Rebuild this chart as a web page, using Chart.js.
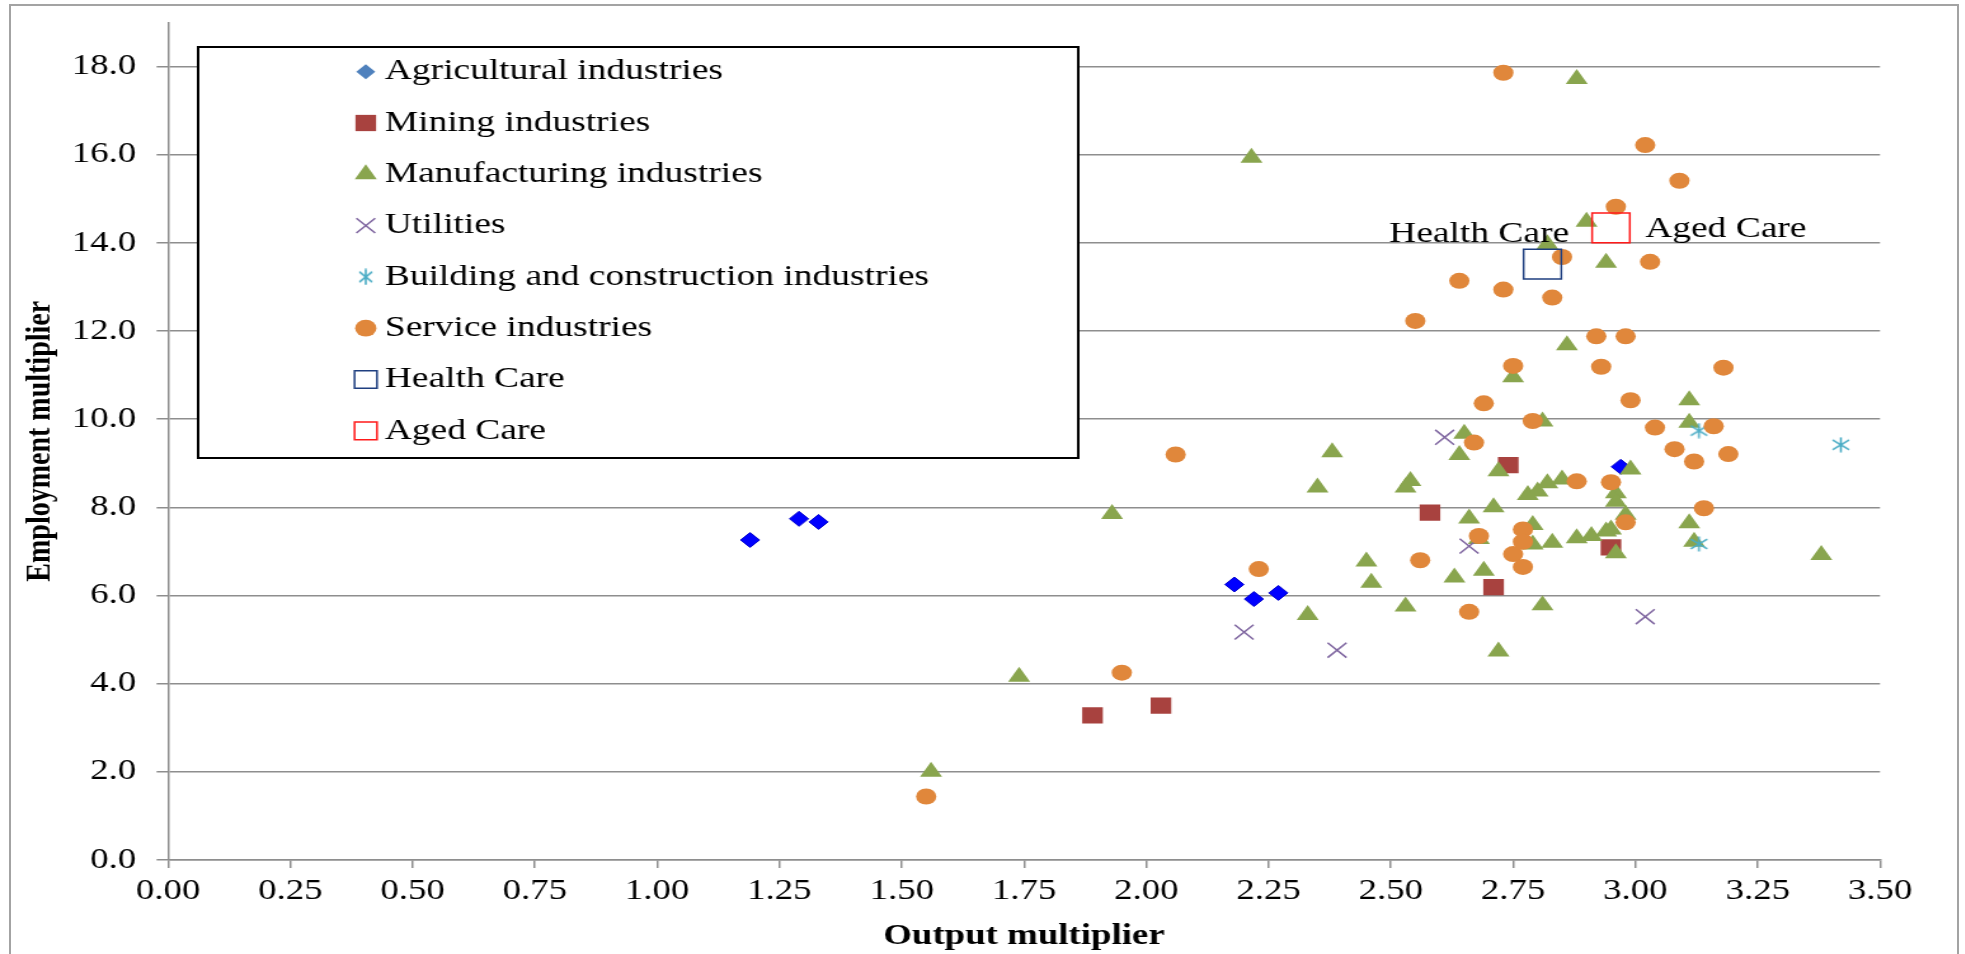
<!DOCTYPE html>
<html>
<head>
<meta charset="utf-8">
<script src="https://cdn.jsdelivr.net/npm/chart.js"></script>
<style>
  html, body { margin: 0; padding: 0; background: #fff; overflow: hidden; }
  #frame { position: absolute; left: 9px; top: 4px; width: 1950px; height: 970px; border: 2px solid #a3a3a3; box-sizing: border-box; }
  #wrap { position: absolute; left: 0; top: 0; width: 1547px; height: 954px; transform: scaleX(1.27); transform-origin: 0 0; }
</style>
</head>
<body>
<div id="frame"></div>
<div id="wrap"><canvas id="chart" width="1547" height="954"></canvas></div>
<script>
// values
var agri_x = [1.19, 1.29, 1.33, 2.18, 2.22, 2.27, 2.97];
var agri_y = [7.26, 7.74, 7.67, 6.25, 5.92, 6.06, 8.92];

var mining_x = [1.89, 2.03, 2.58, 2.71, 2.74, 2.95];
var mining_y = [3.28, 3.50, 7.88, 6.19, 8.96, 7.09];

var manuf_x = [1.56, 1.74, 1.93, 2.215, 2.33, 2.35, 2.38, 2.45, 2.46, 2.53, 2.53, 2.54, 2.63, 2.64, 2.65, 2.66, 2.68, 2.69, 2.71, 2.72, 2.72, 2.75, 2.78, 2.79, 2.79, 2.80, 2.81, 2.81, 2.82, 2.82, 2.83, 2.85, 2.86, 2.88, 2.88, 2.90, 2.91, 2.94, 2.94, 2.95, 2.96, 2.96, 2.96, 2.98, 2.99, 3.11, 3.11, 3.11, 3.12, 3.38];
var manuf_y = [2.00, 4.16, 7.85, 15.93, 5.56, 8.45, 9.25, 6.77, 6.29, 5.75, 8.45, 8.60, 6.41, 9.19, 9.67, 7.75, 7.28, 6.56, 8.00, 8.82, 4.73, 10.95, 8.28, 7.60, 7.16, 8.36, 9.95, 5.78, 8.55, 13.97, 7.20, 8.63, 11.68, 17.72, 7.30, 14.48, 7.35, 7.45, 13.55, 7.50, 8.32, 8.13, 6.96, 7.83, 8.86, 10.43, 9.92, 7.64, 7.22, 6.92];

var util_x = [2.20, 2.39, 2.61, 2.66, 3.02];
var util_y = [5.17, 4.76, 9.59, 7.12, 5.52];

var build_x = [3.13, 3.13, 3.42];
var build_y = [9.74, 7.17, 9.42];

var service_x = [1.55, 1.95, 2.06, 2.23, 2.55, 2.56, 2.64, 2.66, 2.67, 2.68, 2.69, 2.73, 2.73, 2.75, 2.75, 2.77, 2.77, 2.77, 2.79, 2.83, 2.85, 2.88, 2.92, 2.93, 2.95, 2.96, 2.98, 2.98, 2.99, 3.02, 3.03, 3.04, 3.08, 3.09, 3.12, 3.14, 3.16, 3.18, 3.19];
var service_y = [1.44, 4.25, 9.20, 6.60, 12.23, 6.80, 13.14, 5.63, 9.47, 7.35, 10.36, 17.86, 12.94, 11.21, 6.94, 7.50, 7.22, 6.65, 9.96, 12.76, 13.68, 8.59, 11.88, 11.19, 8.57, 14.82, 11.88, 7.66, 10.43, 16.22, 13.57, 9.81, 9.32, 15.41, 9.04, 7.98, 9.84, 11.17, 9.21];

var health_x = [2.81];
var health_y = [13.52];
var aged_x = [2.95];
var aged_y = [14.34];

var series_names = ['Agricultural industries', 'Mining industries', 'Manufacturing industries', 'Utilities', 'Building and construction industries', 'Service industries', 'Health Care', 'Aged Care'];
var y_ticks = [0, 2, 4, 6, 8, 10, 12, 14, 16, 18];

const serif = '"Liberation Serif", "Times New Roman", serif';
const grid_gray = '#8e8e8e';

function pts(xs, ys) {
    return xs.map((x, i) => ({x: x, y: ys[i]}));
}

// Excel style asterisk: one vertical stroke plus an X
function make_star(w, h, color, lw) {
    var c = document.createElement('canvas');
    c.width = w;
    c.height = h;
    var g = c.getContext('2d');
    g.strokeStyle = color;
    g.lineWidth = lw;
    g.beginPath();
    g.moveTo(w / 2, 0.5); g.lineTo(w / 2, h - 0.5);
    g.moveTo(1, h * 0.2); g.lineTo(w - 1, h * 0.8);
    g.moveTo(1, h * 0.8); g.lineTo(w - 1, h * 0.2);
    g.stroke();
    return c;
}

var star_point = make_star(15, 16, '#4AACC5', 1.6);
var star_legend = make_star(12, 17, '#4AACC5', 1.6);

// legend markers (drawn in the boxed legend)
var legend_marks = [
    {style: 'rectRot', r: 7.5, fill: '#4F81BD', stroke: '#4F81BD', w: 0},
    {style: 'rect', r: 11.5, fill: '#A8423F', stroke: '#A8423F', w: 0},
    {style: 'triangle', r: 10, fill: '#89A54E', stroke: '#89A54E', w: 0},
    {style: 'crossRot', r: 10.5, fill: 'rgba(0,0,0,0)', stroke: '#7F66A0', w: 1.5},
    {style: star_legend, r: 8, fill: 'rgba(0,0,0,0)', stroke: '#4AACC5', w: 0},
    {style: 'circle', r: 8.4, fill: '#E0873B', stroke: '#E0873B', w: 0},
    {style: 'rect', r: 12.5, fill: 'rgba(0,0,0,0)', stroke: '#1F3F80', w: 1.5},
    {style: 'rect', r: 12.5, fill: 'rgba(0,0,0,0)', stroke: '#FF1A1A', w: 1.5}
];

function mark(ctx, m, x, y) {
    ctx.fillStyle = m.fill;
    ctx.strokeStyle = m.stroke;
    ctx.lineWidth = m.w;
    Chart.helpers.drawPoint(ctx, {pointStyle: m.style, radius: m.r, rotation: 0, borderWidth: m.w}, x, y);
}

const legend_box = {
    id: 'legend_box',
    afterDraw(chart) {
        const ctx = chart.ctx;
        ctx.save();
        ctx.fillStyle = '#fff';
        ctx.fillRect(156, 47, 693, 411);
        ctx.strokeStyle = '#000';
        ctx.lineWidth = 2;
        ctx.strokeRect(156, 47, 693, 411);

        ctx.font = '29.5px ' + serif;
        ctx.textBaseline = 'middle';
        ctx.textAlign = 'left';
        for (var i = 0; i < series_names.length; i++) {
            var yy = 71.7 + i * 51.3;
            mark(ctx, legend_marks[i], 288, yy);
            ctx.fillStyle = '#000';
            ctx.fillText(series_names[i], 303, yy);
        }

        // labels next to the two highlighted points
        var xs = chart.scales.x, ys = chart.scales.y;
        ctx.fillStyle = '#000';
        ctx.textAlign = 'right';
        ctx.fillText('Health Care', xs.getPixelForValue(health_x[0]) + 21, ys.getPixelForValue(health_y[0]) - 30);
        ctx.textAlign = 'left';
        ctx.fillText('Aged Care', xs.getPixelForValue(aged_x[0]) + 27, ys.getPixelForValue(aged_y[0]) + 1);
        ctx.restore();
    }
};

var chart = new Chart(document.getElementById('chart'), {
    type: 'scatter',
    data: {
        datasets: [
            {label: series_names[0], data: pts(agri_x, agri_y), order: 7, pointStyle: 'rectRot', pointRadius: 7.5, backgroundColor: '#0000FF', borderColor: '#0000CC', borderWidth: 1},
            {label: series_names[1], data: pts(mining_x, mining_y), order: 6, pointStyle: 'rect', pointRadius: 11.5, backgroundColor: '#A8423F', borderColor: '#A8423F', borderWidth: 0},
            {label: series_names[2], data: pts(manuf_x, manuf_y), order: 5, pointStyle: 'triangle', pointRadius: 10, backgroundColor: '#89A54E', borderColor: '#89A54E', borderWidth: 0},
            {label: series_names[3], data: pts(util_x, util_y), order: 4, pointStyle: 'crossRot', pointRadius: 10.5, backgroundColor: '#7F66A0', borderColor: '#7F66A0', borderWidth: 1.5},
            {label: series_names[4], data: pts(build_x, build_y), order: 3, pointStyle: star_point, pointRadius: 8, backgroundColor: '#4AACC5', borderColor: '#4AACC5', borderWidth: 0},
            {label: series_names[5], data: pts(service_x, service_y), order: 2, pointStyle: 'circle', pointRadius: 8, backgroundColor: '#E0873B', borderColor: '#E0873B', borderWidth: 0},
            {label: series_names[6], data: pts(health_x, health_y), order: 1, pointStyle: 'rect', pointRadius: 21, backgroundColor: 'rgba(0,0,0,0)', borderColor: '#1F3F80', borderWidth: 1.5},
            {label: series_names[7], data: pts(aged_x, aged_y), order: 0, pointStyle: 'rect', pointRadius: 21, backgroundColor: 'rgba(0,0,0,0)', borderColor: '#FF1A1A', borderWidth: 1.5}
        ]
    },
    options: {
        responsive: false,
        animation: false,
        devicePixelRatio: 1,
        layout: {padding: {top: 21.7, right: 66.7, bottom: 0, left: 0}},
        plugins: {
            legend: {display: false},
            tooltip: {enabled: false}
        },
        scales: {
            x: {
                type: 'linear',
                min: 0,
                max: 3.5,
                afterFit: (scale) => { scale.height = 94; scale.paddingLeft = 0; scale.paddingRight = 0; },
                ticks: {
                    stepSize: 0.25,
                    autoSkip: false,
                    maxRotation: 0,
                    padding: 6,
                    color: '#000',
                    font: {family: serif, size: 29},
                    callback: (v) => v.toFixed(2)
                },
                grid: {drawOnChartArea: false, drawTicks: true, tickLength: 8, color: grid_gray, lineWidth: 1.5},
                border: {display: true, color: grid_gray, width: 1.5},
                title: {
                    display: true,
                    text: 'Output multiplier',
                    color: '#000',
                    font: {family: serif, size: 29, weight: 'bold'},
                    padding: {top: 14, bottom: 0}
                }
            },
            y: {
                type: 'linear',
                min: 0,
                max: 19,
                afterFit: (scale) => { scale.width = 132.3; scale.paddingTop = 0; scale.paddingBottom = 0; },
                afterBuildTicks: (scale) => { scale.ticks = y_ticks.map(v => ({value: v})); },
                ticks: {
                    padding: 16,
                    color: '#000',
                    font: {family: serif, size: 29},
                    callback: (v) => v.toFixed(1)
                },
                grid: {color: grid_gray, lineWidth: 1.5, tickLength: 9},
                border: {display: true, color: grid_gray, width: 1.5},
                title: {
                    display: true,
                    text: 'Employment multiplier',
                    color: '#000',
                    font: {family: serif, size: 28, weight: 'bold'},
                    padding: {top: 15, bottom: 0}
                }
            }
        }
    },
    plugins: [legend_box]
});
</script>
</body>
</html>
